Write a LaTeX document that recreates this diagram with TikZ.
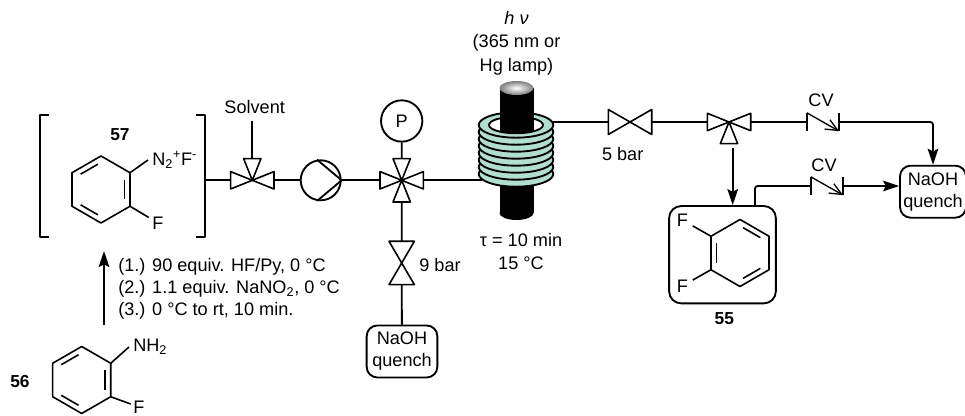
\documentclass[tikz,border=0pt]{standalone}
\usepackage{fontspec}
\setmainfont{Liberation Sans}
\usetikzlibrary{arrows.meta,positioning}
\definecolor{coil}{RGB}{178,222,208}
\tikzset{
  >={Stealth[length=12pt,width=8pt,inset=2pt]},
  pipe/.style={line width=1.4pt,line join=round},
  bond/.style={line width=1.2pt,line join=round},
  flow/.style={pipe,->},
  lbl/.style={font=\fontsize{13.6}{16.5}\selectfont,inner sep=0pt,align=center},
  num/.style={font=\fontsize{13}{16}\selectfont\bfseries,inner sep=0pt},
  quench/.style={draw,line width=1.4pt,rounded corners=8pt,minimum width=#1,minimum height=39pt,
    inner sep=0pt,align=center,font=\fontsize{13.6}{16.5}\selectfont},
  quench/.default=53pt,
  gauge/.style={circle,draw,line width=1.4pt,minimum size=31pt,inner sep=0pt,font=\fontsize{13.6}{16.5}\selectfont},
  % valves, rings
  pics/valve/.style 2 args={code={
    \foreach \a/\n in {#2}{
      \begin{scope}[rotate=\a]
        \draw[bond,fill=white] (0,0) -- (21.7,-#1) -- (21.7,#1) -- cycle;
        \coordinate (-\n) at (21.7,0);
      \end{scope}
    }
  }},
  pics/cv/.style={code={
    \draw[pipe] (-16.2,-9.2) -- (-16.2,9.2) (16.2,-9.2) -- (16.2,9.2);
    \draw[line width=1pt,-{Straight Barb[length=9pt,width=8pt]}] (-16.2,-9.2) -- (16.2,9.2);
    \coordinate (-l) at (-16.2,0);
    \coordinate (-r) at (16.2,0);
  }},
  pics/ring/.style={code={
    \draw[bond] (30:33.5) -- (90:33.5) -- (150:33.5) -- (210:33.5) -- (270:33.5) -- (330:33.5) -- cycle;
    \foreach \a in {#1} \draw[bond] (\a+7:25.5) -- (\a+53:25.5);
    \foreach \a in {30,150,210,330} \coordinate (-v\a) at (\a:33.5);
  }},
}

\begin{document}
\begin{tikzpicture}[x=.75pt,y=-.75pt]
  \useasboundingbox (0,0) rectangle (965,416);
  % 57
  \draw[pipe] (49,115) -- (40,115) -- (40,237) -- (49,237);
  \draw[pipe] (196,115) -- (205,115) -- (205,237) -- (196,237);
  \coordinate (brk) at (205,180.3);
  \node[num] (n57) at (120,135) {57};
  \pic (r57) at (101,189.5) {ring={-30,90,210}};
  \node[lbl,anchor=west,inner sep=3pt] (nn) at (148,160) {N\textsubscript{2}\textsuperscript{+}F\textsuperscript{-}};
  \node[lbl] (f57) at (158,223) {F};
  \draw[bond] (r57-v330) -- (nn.west);
  \draw[bond,shorten >=3pt] (r57-v30) -- (f57);
  % 56
  \coordinate (a56) at (104,325);
  \coordinate (a57) at (104,251);
  \draw[flow] (a56) -- (a57);
  \node[lbl,anchor=west,align=left] (cond) at (118,289) {(1.) 90 equiv. HF/Py, 0 °C\\(2.) 1.1 equiv. NaNO\textsubscript{2}, 0 °C\\(3.) 0 °C to rt, 10 min.};
  \node[num] (n56) at (20,381.7) {56};
  \pic (r56) at (81.7,380) {ring={-30,90,210}};
  \node[lbl,anchor=west,inner sep=3pt] (nh) at (129,347) {NH\textsubscript{2}};
  \node[font=\fontsize{13.6}{13.6}\selectfont,inner sep=0pt] (f56) at (139,407) {F};
  \draw[bond,shorten >=2pt] (r56-v30) -- (f56);
  \draw[bond] (r56-v330) -- (nh.west);
  % feed line
  \node[lbl] (sol) at (254.7,107.3) {Solvent};
  \pic (sv) at (252.3,180.3) {valve={8.7}{0/r,180/l,90/t}};
  \coordinate (solin) at (252.3,120.7);
  \node[circle,draw,line width=1.4pt,minimum size=30pt,inner sep=0pt] (pump) at (320.7,180.3) {};
  \draw[pipe] (pump.100) -- (pump.0) -- (pump.-100);
  \pic (cr) at (401.7,180.3) {valve={8.7}{0/r,180/l,90/t,270/b}};
  \node[gauge] (pg) at (401.7,121) {P};
  \pic (bp) at (401.7,263) {valve={12.7}{90/t,270/b}};
  \node[lbl] (b9) at (440,265) {9 bar};
  \node[quench] (q1) at (402,351.5) {NaOH\\quench};
  \draw[pipe] (brk) -- (sv-l) (sv-r) -- (pump) (pump) -- (cr-l);
  \draw[pipe] (solin) -- (sv-t);
  \draw[pipe] (pg) -- (cr-t) (cr-b) -- (bp-t) (bp-b) -- (q1);
  % reactor
  \coordinate (rin) at (482,180.3);
  \coordinate (rout) at (553,122);
  \draw[pipe] (cr-r) -- (rin);
  \fill[black] (499.5,125) rectangle (533.5,213);
  \fill[black] (516.5,213) ellipse (17 and 7);
  \foreach \y in {174,167,160,153,146,139,132,125}
    \draw[pipe,fill=coil] (516,\y) ellipse (37.3 and 12.7);
  \draw[pipe,fill=white] (516,125) ellipse (27 and 8.3);
  \begin{scope}
    \clip (516,125) ellipse (27 and 8.3);
    \fill[black] (499.5,120) rectangle (533.5,135);
  \end{scope}
  \fill[black] (499.5,88) rectangle (533.5,125);
  \shade[inner color=white,outer color=black!50] (516.5,88) ellipse (17 and 7);
  \node[lbl] (lamp) at (516.5,43) {\textit{h ν}\\[1pt](365 nm or\\[1pt]Hg lamp)};
  \node[lbl] (tau) at (521,251.7) {τ = 10 min\\[1pt]15 °C};
  % outlet
  \pic (bp2) at (630,122) {valve={12.5}{0/r,180/l}};
  \node[lbl] (b5) at (622.7,154) {5 bar};
  \pic (tv) at (729,122) {valve={8.7}{0/r,180/l,270/b}};
  \coordinate (drain) at (732.7,148);
  \pic (cv1) at (823,122) {cv};
  \node[lbl] (l1) at (821,100) {CV};
  \node[quench=49.5pt] (q2) at (933,191.7) {NaOH\\quench};
  \draw[pipe] (rout) -- (bp2-l) (bp2-r) -- (tv-l) (tv-r) -- (cv1-l);
  \draw[flow,rounded corners=2pt] (cv1-r) -- (q2.north |- cv1-r) -- (q2.north);
  % 55
  \node[draw,line width=1.4pt,rounded corners=9pt,minimum width=80pt,minimum height=73pt] (p55) at (722.5,254.7) {};
  \pic (r55) at (740,253) {ring={150,-90,30}};
  \node[lbl] (f1) at (682.3,220) {F};
  \node[lbl] (f2) at (682.3,286) {F};
  \draw[bond,shorten >=4pt] (r55-v210) -- (f1);
  \draw[bond,shorten >=4pt] (r55-v150) -- (f2);
  \node[num] (n55) at (724.3,319) {55};
  \draw[flow] (drain) -- (drain |- p55.north);
  \coordinate (out) at (755,206);
  \pic (cv2) at (827,186) {cv};
  \node[lbl] (l2) at (824,165) {CV};
  \draw[pipe,rounded corners=2pt] (out) -- (out |- cv2-l) -- (cv2-l);
  \draw[flow] (cv2-r) -- (cv2-r -| q2.west);
\end{tikzpicture}
\end{document}
